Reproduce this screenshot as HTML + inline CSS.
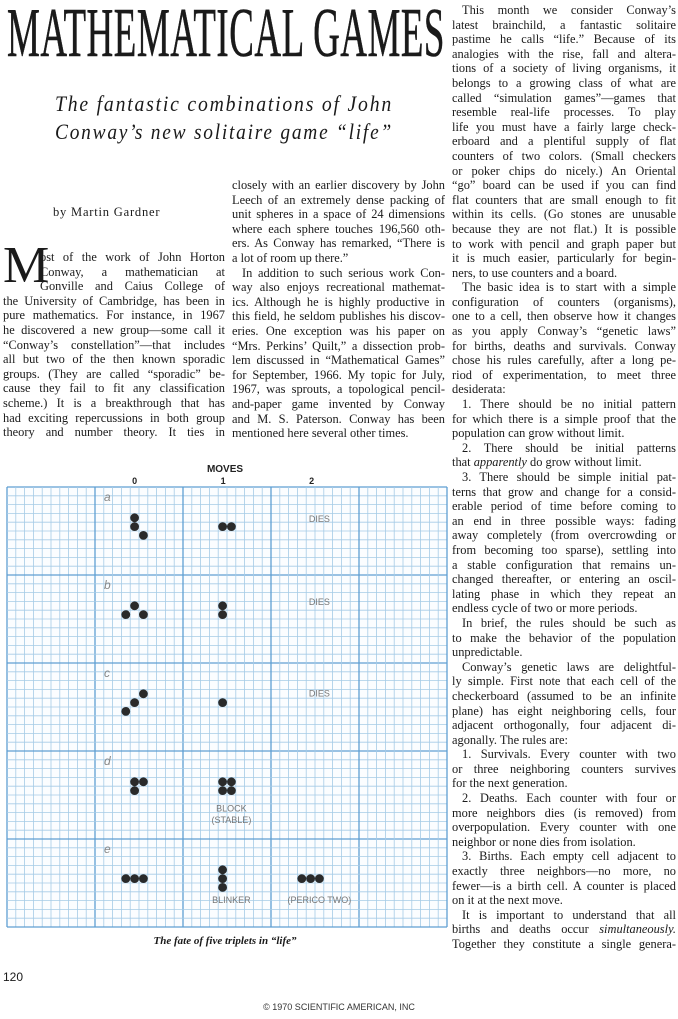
<!DOCTYPE html>
<html><head><meta charset="utf-8">
<style>
html,body{margin:0;padding:0;background:#fff;}
body{width:678px;height:1019px;position:relative;overflow:hidden;font-family:"Liberation Serif",serif;color:#1a1a1a;}
.abs{position:absolute;}
.col{position:absolute;font-size:12.4px;line-height:14.6px;}
.col span{display:block;white-space:nowrap;text-align:justify;text-align-last:justify;height:14.6px;}
.col span.e{text-align-last:left;}
.col span.i{text-indent:10px;}
.fit{white-space:nowrap;transform-origin:0 0;display:inline-block;}
</style></head>
<body>
<div class="abs" style="left:7px;top:-6px;"><span class="fit" data-w="438" style="font-size:70px;font-weight:normal;letter-spacing:1px;-webkit-text-stroke:0.6px #1a1a1a;">MATHEMATICAL GAMES</span></div>
<div class="abs" style="left:55px;top:90px;font-style:italic;font-size:22px;line-height:28px;">
<div><span class="fit" data-w="338" style="letter-spacing:2px;">The fantastic combinations of John</span></div>
<div><span class="fit" data-w="338" style="letter-spacing:2px;">Conway’s new solitaire game “life”</span></div>
</div>
<div class="abs" style="left:53px;top:205px;font-size:12.5px;letter-spacing:0.8px;">by Martin Gardner</div>

<div class="abs" style="left:3px;top:240px;font-size:52px;line-height:52px;">M</div>
<div class="col" style="left:3px;top:250px;width:222px;">
<span style="margin-left:37px">ost of the work of John Horton</span>
<span style="margin-left:37px">Conway, a mathematician at</span>
<span style="margin-left:37px">Gonville and Caius College of</span>
<span>the University of Cambridge, has been in</span>
<span>pure mathematics. For instance, in 1967</span>
<span>he discovered a new group—some call it</span>
<span>“Conway’s constellation”—that includes</span>
<span>all but two of the then known sporadic</span>
<span>groups. (They are called “sporadic” be-</span>
<span>cause they fail to fit any classification</span>
<span>scheme.) It is a breakthrough that has</span>
<span>had exciting repercussions in both group</span>
<span>theory and number theory. It ties in</span>
</div>

<div class="col" style="left:232px;top:178px;width:213px;">
<span>closely with an earlier discovery by John</span>
<span>Leech of an extremely dense packing of</span>
<span>unit spheres in a space of 24 dimensions</span>
<span>where each sphere touches 196,560 oth-</span>
<span>ers. As Conway has remarked, “There is</span>
<span class="e">a lot of room up there.”</span>
<span class="i">In addition to such serious work Con-</span>
<span>way also enjoys recreational mathemat-</span>
<span>ics. Although he is highly productive in</span>
<span>this field, he seldom publishes his discov-</span>
<span>eries. One exception was his paper on</span>
<span>“Mrs. Perkins’ Quilt,” a dissection prob-</span>
<span>lem discussed in “Mathematical Games”</span>
<span>for September, 1966. My topic for July,</span>
<span>1967, was sprouts, a topological pencil-</span>
<span>and-paper game invented by Conway</span>
<span>and M. S. Paterson. Conway has been</span>
<span class="e">mentioned here several other times.</span>
</div>

<div class="col" style="left:452px;top:3px;width:224px;">
<span class="i">This month we consider Conway’s</span>
<span>latest brainchild, a fantastic solitaire</span>
<span>pastime he calls “life.” Because of its</span>
<span>analogies with the rise, fall and altera-</span>
<span>tions of a society of living organisms, it</span>
<span>belongs to a growing class of what are</span>
<span>called “simulation games”—games that</span>
<span>resemble real-life processes. To play</span>
<span>life you must have a fairly large check-</span>
<span>erboard and a plentiful supply of flat</span>
<span>counters of two colors. (Small checkers</span>
<span>or poker chips do nicely.) An Oriental</span>
<span>“go” board can be used if you can find</span>
<span>flat counters that are small enough to fit</span>
<span>within its cells. (Go stones are unusable</span>
<span>because they are not flat.) It is possible</span>
<span>to work with pencil and graph paper but</span>
<span>it is much easier, particularly for begin-</span>
<span class="e">ners, to use counters and a board.</span>
<span class="i">The basic idea is to start with a simple</span>
<span>configuration of counters (organisms),</span>
<span>one to a cell, then observe how it changes</span>
<span>as you apply Conway’s “genetic laws”</span>
<span>for births, deaths and survivals. Conway</span>
<span>chose his rules carefully, after a long pe-</span>
<span>riod of experimentation, to meet three</span>
<span class="e">desiderata:</span>
<span class="i">1. There should be no initial pattern</span>
<span>for which there is a simple proof that the</span>
<span class="e">population can grow without limit.</span>
<span class="i">2. There should be initial patterns</span>
<span class="e">that <i>apparently</i> do grow without limit.</span>
<span class="i">3. There should be simple initial pat-</span>
<span>terns that grow and change for a consid-</span>
<span>erable period of time before coming to</span>
<span>an end in three possible ways: fading</span>
<span>away completely (from overcrowding or</span>
<span>from becoming too sparse), settling into</span>
<span>a stable configuration that remains un-</span>
<span>changed thereafter, or entering an oscil-</span>
<span>lating phase in which they repeat an</span>
<span class="e">endless cycle of two or more periods.</span>
<span class="i">In brief, the rules should be such as</span>
<span>to make the behavior of the population</span>
<span class="e">unpredictable.</span>
<span class="i">Conway’s genetic laws are delightful-</span>
<span>ly simple. First note that each cell of the</span>
<span>checkerboard (assumed to be an infinite</span>
<span>plane) has eight neighboring cells, four</span>
<span>adjacent orthogonally, four adjacent di-</span>
<span class="e">agonally. The rules are:</span>
<span class="i">1. Survivals. Every counter with two</span>
<span>or three neighboring counters survives</span>
<span class="e">for the next generation.</span>
<span class="i">2. Deaths. Each counter with four or</span>
<span>more neighbors dies (is removed) from</span>
<span>overpopulation. Every counter with one</span>
<span class="e">neighbor or none dies from isolation.</span>
<span class="i">3. Births. Each empty cell adjacent to</span>
<span>exactly three neighbors—no more, no</span>
<span>fewer—is a birth cell. A counter is placed</span>
<span class="e">on it at the next move.</span>
<span class="i">It is important to understand that all</span>
<span>births and deaths occur <i>simultaneously.</i></span>
<span>Together they constitute a single genera-</span>
</div>

<svg id="chart" class="abs" style="left:0;top:0" width="678" height="1019"></svg>

<div class="abs" style="left:0;width:450px;top:935px;text-align:center;font-size:11px;font-style:italic;font-weight:bold;">The fate of five triplets in “life”</div>
<div class="abs" style="left:3px;top:970px;font-family:'Liberation Sans',sans-serif;font-size:12px;">120</div>
<div class="abs" style="left:0;width:678px;top:1002px;text-align:center;font-family:'Liberation Sans',sans-serif;font-size:9px;color:#333;">© 1970 SCIENTIFIC AMERICAN, INC</div>

<script>
document.querySelectorAll('.fit').forEach(function(el){
  var w=+el.getAttribute('data-w');var r=el.getBoundingClientRect().width;
  el.style.transform='scaleX('+(w/r)+')';
});

// ---- chart data ----
const moveLabels=['0','1','2'];
const rowLabels=['a','b','c','d','e'];
const a0=[[14,3],[14,4],[15,5]];
const a1=[[24,4],[25,4]];
const b0=[[14,13],[13,14],[15,14]];
const b1=[[24,13],[24,14]];
const c0=[[15,23],[14,24],[13,25]];
const c1=[[24,24]];
const d0=[[14,33],[15,33],[14,34]];
const d1=[[24,33],[25,33],[24,34],[25,34]];
const e0=[[13,44],[14,44],[15,44]];
const e1=[[24,43],[24,44],[24,45]];
const e2=[[33,44],[34,44],[35,44]];
const notes=[['DIES',35,4],['DIES',35,13.4],['DIES',35,23.8],['BLOCK',25,36.9],['(STABLE)',25,38.2],['BLINKER',25,47.3],['(PERICO TWO)',35,47.3]];

const GX=7,GY=487,CELL=8.8,N=50;
function cx(c){return GX+(c+0.5)*CELL;}
function cy(r){return GY+(r+0.5)*CELL;}
const svg=document.getElementById('chart');
const NS='http://www.w3.org/2000/svg';
function mk(t,a){var e=document.createElementNS(NS,t);for(var k in a)e.setAttribute(k,a[k]);svg.appendChild(e);return e;}

var bg=mk('rect',{x:GX,y:GY,width:N*CELL,height:N*CELL,fill:'#fbfdff'});


for(var i=0;i<=N;i++){
  var maj=(i%10===0);
  var st=maj?'#5f9fd2':'#a6cbe6', sw=maj?1.3:0.8;
  var v=mk('line',{x1:GX+i*CELL,y1:GY,x2:GX+i*CELL,y2:GY+N*CELL,stroke:st,'stroke-width':sw});
  
  
  var h=mk('line',{x1:GX,y1:GY+i*CELL,x2:GX+N*CELL,y2:GY+i*CELL,stroke:st,'stroke-width':sw});
  
  
}
var mv=mk('text',{x:225,y:472,'text-anchor':'middle','font-family':'Liberation Sans, sans-serif','font-size':10,'font-weight':'bold',fill:'#222'});
mv.textContent='MOVES';


moveLabels.forEach(function(l,k){
  var t=mk('text',{x:cx(14)+k*88.5,y:484,'text-anchor':'middle','font-family':'Liberation Sans, sans-serif','font-size':9,'font-weight':'bold',fill:'#222'});
  t.textContent=l;
  
  
});
rowLabels.forEach(function(l,k){
  var t=mk('text',{x:104,y:GY+(1.6+k*10)*CELL,'font-family':'Liberation Sans, sans-serif','font-style':'italic','font-size':12,fill:'#888'});
  t.textContent=l;
  
  
});
[a0,a1,b0,b1,c0,c1,d0,d1,e0,e1,e2].forEach(function(set){
  set.forEach(function(p){
    var d=mk('circle',{cx:cx(p[0]),cy:cy(p[1]),r:4.4,fill:'#2a2a2a'});
    
    
  });
});
notes.forEach(function(n){
  var t=mk('text',{x:cx(n[1]),y:GY+n[2]*CELL,'text-anchor':'middle','font-family':'Liberation Sans, sans-serif','font-size':9,fill:'#777'});
  t.textContent=n[0];
  
  
});
</script>
</body></html>
